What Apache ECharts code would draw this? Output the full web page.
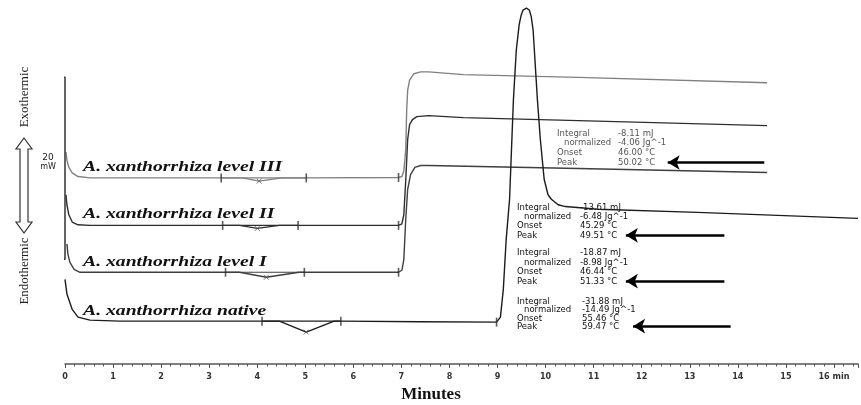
<!DOCTYPE html>
<html><head><meta charset="utf-8">
<script src="https://cdn.jsdelivr.net/npm/echarts@6/dist/echarts.min.js"></script>
<style>html,body{margin:0;padding:0;background:#fff}#c{width:861px;height:405px}</style>
</head><body><div id="c"></div>
<script>
// ---- data (time in minutes, heat flow in mW, arbitrary offsets) ----
const seriesNames = ['A. xanthorrhiza level III','A. xanthorrhiza level II','A. xanthorrhiza level I','A. xanthorrhiza native'];
const levelIII = [[0.02,23.3],[0.04,22.4],[0.08,21.6],[0.15,21.0],[0.27,20.6],[0.52,20.45],[3.25,20.45],[3.69,20.45],[4.04,20.1],[4.52,20.45],[5.02,20.45],[6.94,20.5],[7.01,20.6],[7.05,21.2],[7.09,23.6],[7.11,28.0],[7.13,30.1],[7.17,31.2],[7.26,31.9],[7.40,32.1],[7.57,32.1],[8.29,31.8],[10.68,31.5],[14.61,30.9]];
const levelII = [[0.02,18.6],[0.04,17.5],[0.08,16.4],[0.15,15.6],[0.27,15.3],[0.52,15.23],[3.28,15.23],[3.63,15.23],[4.0,14.9],[4.46,15.23],[4.85,15.23],[6.94,15.23],[7.01,15.4],[7.05,16.4],[7.09,20.2],[7.13,24.7],[7.17,26.3],[7.23,26.85],[7.32,27.18],[7.57,27.29],[8.29,27.07],[10.68,26.74],[14.61,26.19]];
const levelI = [[0.04,13.2],[0.06,12.1],[0.10,11.2],[0.19,10.4],[0.31,10.08],[0.52,10.08],[3.34,10.08],[3.63,10.08],[4.19,9.53],[4.87,10.08],[4.98,10.08],[6.94,10.08],[7.01,10.3],[7.05,11.5],[7.09,15.9],[7.13,19.2],[7.19,20.8],[7.28,21.6],[7.40,21.81],[7.57,21.81],[10.68,21.48],[14.61,21.04]];
const native = [[0.0,9.3],[0.04,7.7],[0.15,6.0],[0.27,5.15],[0.52,4.82],[1.14,4.71],[4.10,4.71],[4.46,4.71],[5.02,3.51],[5.60,4.71],[5.74,4.71],[7.40,4.65],[8.98,4.60],[9.06,5.15],[9.12,8.2],[9.18,13.7],[9.25,18.1],[9.33,29.0],[9.39,34.5],[9.45,37.3],[9.49,38.3],[9.53,38.9],[9.60,39.1],[9.66,38.9],[9.70,38.2],[9.74,36.7],[9.83,29.0],[9.89,24.7],[9.97,20.3],[10.05,18.6],[10.12,18.1],[10.26,17.5],[10.41,17.3],[11.09,17.0],[13.16,16.66],[16.5,16.0]];
// integration baselines (chords)
const chords = [[[3.25,20.45],[5.02,20.45]],[[3.28,15.23],[4.85,15.23]],[[3.34,10.08],[4.98,10.08]],[[4.10,4.71],[5.74,4.71]]];
// integration limit markers and event ticks
const limitMarks = [[3.25,20.45],[5.02,20.45],[6.94,20.5],[3.28,15.23],[4.85,15.23],[6.94,15.23],[3.34,10.08],[4.98,10.08],[6.94,10.08],[4.10,4.71],[5.74,4.71],[8.98,4.60]];
const peakMarks = [[4.04,20.1],[4.0,14.9],[4.19,9.53],[5.02,3.51]];
// 20 mW scale bar
const scaleBar = [[-0.08,31.5],[0,31.5],[0,11.5],[-0.08,11.5]];
// arrows: [tail time, head time, mW]
const arrows = [[14.55,12.54,22.14],[13.72,11.67,14.14],[13.72,11.67,9.10],[13.85,11.82,4.16]];
// result tables
const integralTxt = ['-8.11 mJ','-13.61 mJ','-18.87 mJ','-31.88 mJ'];
const normalizedTxt = ['-4.06 Jg^-1','-6.48 Jg^-1','-8.98 Jg^-1','-14.49 Jg^-1'];
const onsetTxt = ['46.00 °C','45.29 °C','46.44 °C','55.46 °C'];
const peakTxt = ['50.02 °C','49.51 °C','51.33 °C','59.47 °C'];

const colors = ['#808080','#2e2e2e','#3f3f3f','#1c1c1c'];
const curves = [levelIII, levelII, levelI, native];

const chart = echarts.init(document.getElementById('c'), null, {renderer:'canvas'});

const series = [];
curves.forEach((d,i)=>{
  const s = {type:'line', name:seriesNames[i], data:d, symbol:'none', smooth:false, silent:true,
    lineStyle:{color:colors[i], width:1.4}, z:3};
  const a = arrows[i];
  s.markLine = {silent:true, symbol:['none','arrow'], symbolSize:[11,12],
    label:{show:false}, lineStyle:{color:'#000', width:2.6, type:'solid'},
    emphasis:{disabled:true},
    data:[[{coord:[a[0],a[2]]},{coord:[a[1],a[2]]}]]};
  series.push(s);
  series.push({type:'line', data:chords[i], symbol:'none', silent:true, lineStyle:{color:colors[i], width:1.2}, z:2});
});
series.push({type:'line', data:scaleBar, symbol:'none', silent:true, clip:false, lineStyle:{color:'#333', width:1.5}});
series.push({type:'scatter', data:limitMarks, symbol:'rect', symbolSize:[1.6,9], silent:true, itemStyle:{color:'#333'}, z:4});
series.push({type:'scatter', data:peakMarks, symbol:'path://M0,0L10,10M10,0L0,10', symbolSize:5, silent:true, itemStyle:{color:'none', borderColor:'#555', borderWidth:1}, z:4});

const graphic = [];
const serif = '"Liberation Serif","Times New Roman",serif';
const sans = '"DejaVu Sans",Verdana,sans-serif';
const labelY = [167, 214, 262, 311];
seriesNames.forEach((n,i)=>{
  graphic.push({type:'text', x:83, y:labelY[i], scaleX:1.27, style:{text:n, font:'italic bold 15.5px '+serif, fill:'#111', verticalAlign:'middle', align:'left'}});
});
const boxes = [
  {lx:557, vx:618, ys:[134,143,153,163], c:'#555'},
  {lx:517, vx:580, ys:[208,217,226,236], c:'#111'},
  {lx:517, vx:580, ys:[253,263,272,282], c:'#111'},
  {lx:517, vx:582, ys:[302,310,319,327], c:'#111'}
];
boxes.forEach((b,i)=>{
  const names = ['Integral','normalized','Onset','Peak'];
  const vals = [integralTxt[i], normalizedTxt[i], onsetTxt[i], peakTxt[i]];
  names.forEach((nm,k)=>{
    graphic.push({type:'text', x:b.lx + (k===1?7:0), y:b.ys[k], style:{text:nm, font:'8.5px '+sans, fill:b.c, verticalAlign:'middle'}});
    graphic.push({type:'text', x:b.vx, y:b.ys[k], style:{text:vals[k], font:'8.5px '+sans, fill:b.c, verticalAlign:'middle'}});
  });
});
graphic.push({type:'text', x:48, y:158, style:{text:'20', font:'9px '+sans, fill:'#222', align:'center', verticalAlign:'middle'}});
graphic.push({type:'text', x:48, y:167, style:{text:'mW', font:'8px '+sans, fill:'#222', align:'center', verticalAlign:'middle'}});
graphic.push({type:'text', x:25, y:97, rotation:Math.PI/2, style:{text:'Exothermic', font:'13px '+serif, fill:'#222', align:'center', verticalAlign:'middle'}});
graphic.push({type:'text', x:25, y:271, rotation:Math.PI/2, style:{text:'Endothermic', font:'13px '+serif, fill:'#222', align:'center', verticalAlign:'middle'}});
graphic.push({type:'polygon', shape:{points:[[24,138],[32,149],[28,149],[28,222],[32,222],[24,233],[16,222],[20,222],[20,149],[16,149]]}, style:{fill:'#fff', stroke:'#333', lineWidth:1.2}});
graphic.push({type:'text', x:431, y:395, style:{text:'Minutes', font:'bold 17px '+serif, fill:'#111', align:'center', verticalAlign:'middle'}});

chart.setOption({
  animation:false,
  backgroundColor:'#fff',
  grid:{left:65, right:0, top:0, bottom:41, containLabel:false},
  xAxis:{type:'value', min:0, max:16.5, interval:1,
    axisLine:{show:true, lineStyle:{color:'#555', width:1.5}},
    axisTick:{show:true, inside:false, length:4, lineStyle:{color:'#555', width:1}},
    minorTick:{show:true, splitNumber:5, length:2.5, lineStyle:{color:'#555', width:1}},
    splitLine:{show:false}, minorSplitLine:{show:false},
    axisLabel:{margin:8, color:'#333', fontSize:9, fontWeight:'bold', fontFamily:'"Liberation Sans Narrow","DejaVu Sans Condensed",sans-serif',
      formatter:v=> (Math.abs(v-Math.round(v))>1e-6 ? '' : (v===16 ? '16 min' : String(v)))}},
  yAxis:{type:'value', min:0, max:40, show:false},
  series:series,
  graphic:graphic
});
</script></body></html>
